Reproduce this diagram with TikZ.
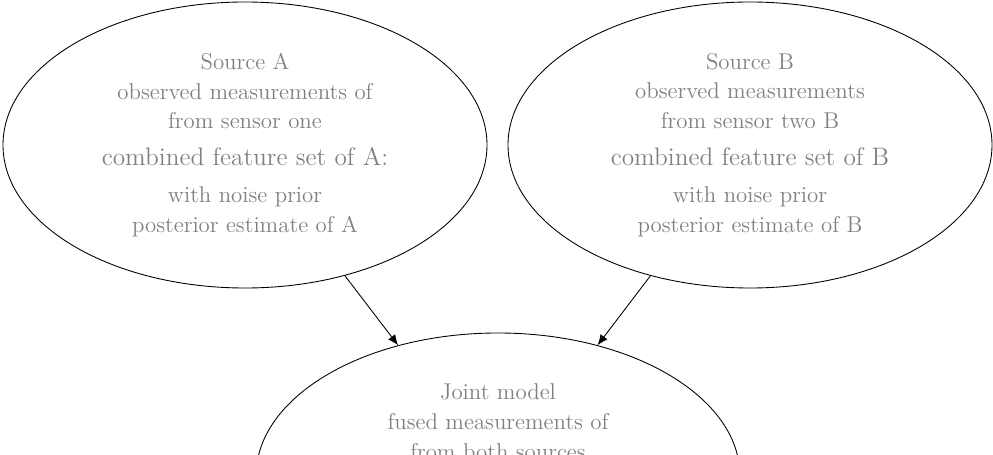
\documentclass[tikz,border=0pt]{standalone}
\usepackage{amssymb,amsmath}
\usetikzlibrary{arrows,arrows.meta}
\usetikzlibrary{shapes.geometric}
\usetikzlibrary{fit,positioning}
\tikzset{font={\fontsize{13pt}{17}\selectfont}}
\tikzset{blob/.style={ellipse,draw,line width=.5pt,minimum width=9.68cm,minimum height=5.72cm,inner sep=0pt,align=center,text=black!50}}
\tikzset{link/.style={-{Latex[length=6pt,width=5pt]},line width=.5pt}}

\begin{document}
\begin{tikzpicture}

\useasboundingbox (0,0) rectangle (19.86,-9.1);

%parent nodes
\node[blob] at (4.9,-2.9) (srca) {Source A\\
observed measurements of\\
from sensor one\\[4pt]
{\Large combined feature set of A:}\\[4pt]
with noise prior\\
posterior estimate of A};

\node[blob] at (15.0,-2.9) (srcb) {Source B\\
observed measurements\\
from sensor two B\\[4pt]
{\Large combined feature set of B}\\[4pt]
with noise prior\\
posterior estimate of B};

%child node
\node[blob] at (9.96,-9.52) (joint) {Joint model\\
fused measurements of\\
from both sources\\[4pt]
{\Large combined feature set A, B}\\[4pt]
with noise prior\\
posterior estimate of A, B};

%connectors
\draw[link] (srca) -- (joint);
\draw[link] (srcb) -- (joint);

\end{tikzpicture}
\end{document}
